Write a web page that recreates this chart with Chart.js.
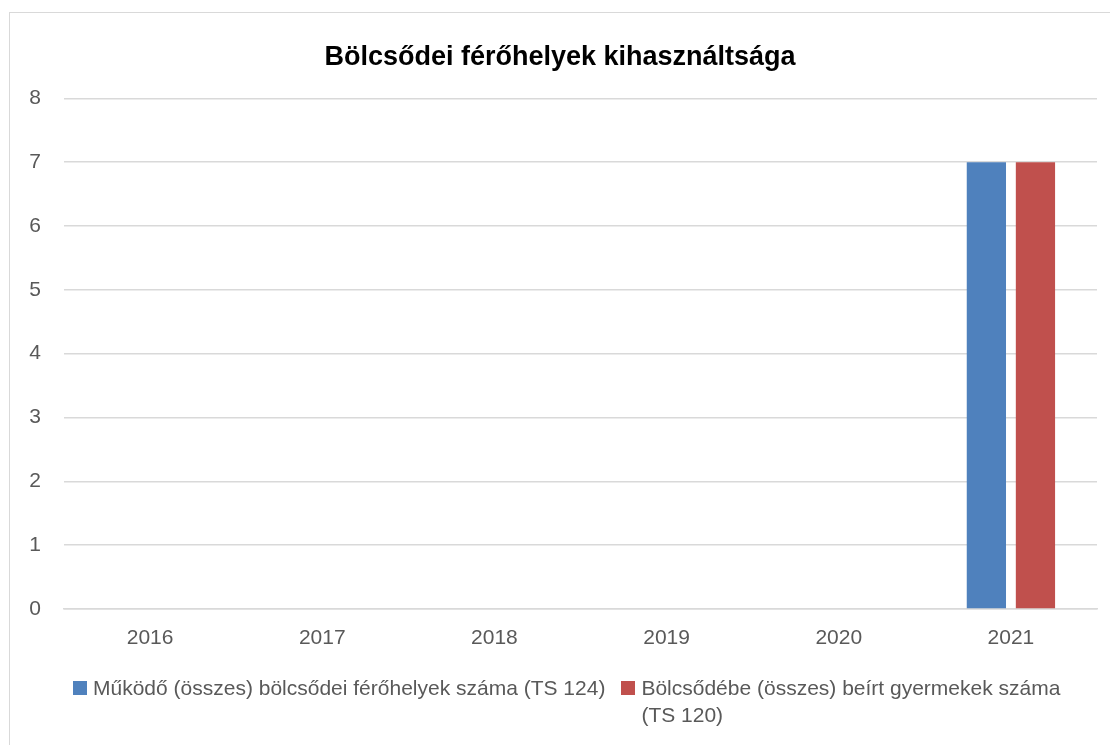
<!DOCTYPE html>
<html lang="hu">
<head>
<meta charset="UTF-8" />
<title>Bölcsődei férőhelyek kihasználtsága</title>
<script src="https://cdn.jsdelivr.net/npm/chart.js"></script>
<style>
  body { margin: 0; background: #fff; font-family: "Liberation Sans", Arial, sans-serif; }
  .wrap { position: relative; width: 1110px; height: 745px; overflow: hidden; }
  .frame { position: absolute; left: 9px; top: 12px; width: 1200px; height: 800px;
           border-left: 1px solid #d9d9d9; border-top: 1px solid #d9d9d9; }
  canvas { position: absolute; left: 0; top: 0; }
  #legend { position: absolute; left: 73px; top: 674px; width: 1005px; display: flex; gap: 16px;
            color: #595959; font-size: 21px; line-height: 27px; }
  .item { display: flex; align-items: flex-start; }
  .item:first-child { white-space: nowrap; flex: none; }
  .box { width: 14px; height: 14px; margin: 7px 6px 0 0; flex: none; }
</style>
</head>
<body>
<div class="wrap">
  <div class="frame"></div>
  <canvas id="chart" width="1110" height="745"></canvas>
  <div id="legend"></div>
</div>
<script>
  const years = ['2016', '2017', '2018', '2019', '2020', '2021'];
  const ferohelyek = [0, 0, 0, 0, 0, 7];
  const beirtGyermekek = [0, 0, 0, 0, 0, 7];
  const seriesNames = [
    'Működő (összes) bölcsődei férőhelyek száma (TS 124)',
    'Bölcsődébe (összes) beírt gyermekek száma (TS 120)'
  ];
  const colors = ['#4f81bd', '#c0504d'];

  // the original title sits a little right of the canvas centre
  const titleShift = {
    id: 'titleShift',
    afterLayout(c) { if (c.titleBlock) c.titleBlock.left += 23; }
  };

  const chart = new Chart(document.getElementById('chart'), {
    type: 'bar',
    data: {
      labels: years,
      datasets: [
        { label: seriesNames[0], data: ferohelyek, backgroundColor: colors[0] },
        { label: seriesNames[1], data: beirtGyermekek, backgroundColor: colors[1] }
      ]
    },
    options: {
      responsive: false,
      animation: false,
      layout: { padding: { left: 0, right: 13, top: 0, bottom: 86 } },
      datasets: { bar: { categoryPercentage: 0.57, barPercentage: 0.8 } },
      plugins: {
        legend: { display: false },
        tooltip: { enabled: false },
        title: {
          display: true,
          text: 'Bölcsődei férőhelyek kihasználtsága',
          color: '#000',
          font: { family: 'Liberation Sans', size: 27, weight: 'bold' },
          padding: { top: 41, bottom: 25 }
        }
      },
      scales: {
        x: {
          grid: { display: false, drawTicks: false },
          border: { color: '#d9d9d9', width: 1.5 },
          ticks: { color: '#595959', font: { family: 'Liberation Sans', size: 21 }, padding: 17 },
          afterFit: s => { s.height = 50; }
        },
        y: {
          min: 0, max: 8,
          grid: { color: '#d9d9d9', lineWidth: 1.5, drawTicks: false },
          border: { display: false },
          ticks: { stepSize: 1, color: '#595959', font: { family: 'Liberation Sans', size: 21 }, padding: 23 },
          afterFit: s => { s.width = 64; }
        }
      }
    },
    plugins: [titleShift]
  });

  // legend as html, so the second label wraps like in the original
  const legend = document.getElementById('legend');
  chart.data.datasets.forEach(ds => {
    const item = document.createElement('div');
    item.className = 'item';
    item.innerHTML = '<span class="box" style="background:' + ds.backgroundColor + '"></span><span></span>';
    item.lastChild.textContent = ds.label;
    legend.appendChild(item);
  });
</script>
</body>
</html>
